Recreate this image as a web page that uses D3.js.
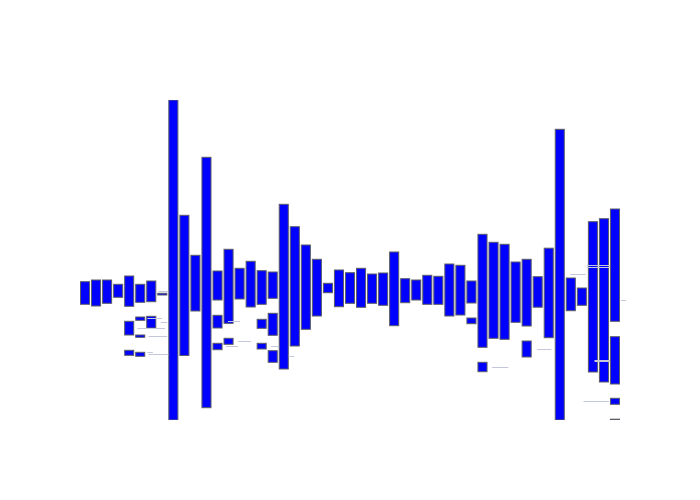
<!DOCTYPE html>
<html>
<head>
<meta charset="utf-8">
<script src="https://cdn.jsdelivr.net/npm/d3@7"></script>
<style>
  body { margin: 0; background: #fff; }
  svg { display: block; }
</style>
</head>
<body>
<div id="chart"></div>
<script>
// categories 1..49 (no tick labels shown on the chart)
var categories = d3.range(1, 50);

// main segment of each column: low and high values
var mainLow  = [115.7,114,116.7,122.7,113.7,117.7,118.3,125,0,64.5,109,12.3,120,96.7,121,113,115.7,121.7,51,74,
                90.7,104,127.3,113.3,116.7,112.7,116.7,114.7,94.3,117.3,120,115.7,115.7,104,105,117,72.7,81.7,80.7,97.7,
                94,112.8,82.3,0,109.3,114.7,48,38,98.7];
var mainHigh = [138.3,140,140,135.7,144,135.7,139,126.7,320,204.7,164.7,262.7,149,170.7,151.7,158.7,149.3,148,215.7,193.3,
                175,160.7,136.7,150,147.3,151.7,146,147,168,141.3,140,144.7,143.7,156,154.7,139,185.7,177.7,175.7,158,
                160.7,143.3,171.8,290.7,142,132,198.3,201.3,211];

// extra lower segments: [category, low, high]
var secondSeg = [[5,85,98.7],[6,99.7,103],[7,92,103.7],[13,92,104.7],[14,75.7,81.7],[17,91.7,100.7],
                 [18,84.7,106.7],[36,96.3,102],[37,48.3,57.7],[41,63,79],[49,36,83.3]];
var thirdSeg  = [[5,64.7,69.7],[6,82.7,85],[13,70.3,76.7],[17,71,76.7],[18,57.7,69.3],[49,15.7,21.7]];
var fourthSeg = [[6,63.7,67.7],[49,0,0.8]];

// faint label stubs: [from (bands), to (bands), value]
var stubs = [[7.1,8.0,129],[6.1,7.45,102],[7.3,7.9,98],[5.2,7.7,92],[6.2,7.9,84],[6.1,6.6,68],[6.2,8.0,66],
             [13.4,14.5,99],[14.3,15.5,79],[13.2,14.3,74],[17.3,18.0,74],[18.9,19.4,64],[37.3,38.8,53],
             [41.4,42.7,71],[45.9,48.0,155],[45.9,48.0,153],[44.4,45.8,146],[49.0,49.5,120],
             [46.6,48.0,60],[46.6,48.0,59],[45.6,47.9,19]];

var width = 700, height = 500;
var margin = {top: 100, right: 80, bottom: 80, left: 80};

var svg = d3.select("#chart").append("svg")
  .attr("width", width)
  .attr("height", height);

var x = d3.scaleBand()
  .domain(categories)
  .range([margin.left, width - margin.right])
  .paddingInner(0.09)
  .paddingOuter(0);

var y = d3.scaleLinear()
  .domain([0, 320])
  .range([height - margin.bottom, margin.top]);

// gather every segment
var segs = categories.map(function(c, i) {
  return {c: c, lo: mainLow[i], hi: mainHigh[i]};
});
[secondSeg, thirdSeg, fourthSeg].forEach(function(list) {
  list.forEach(function(d) { segs.push({c: d[0], lo: d[1], hi: d[2]}); });
});

svg.append("clipPath").attr("id", "plot")
  .append("rect")
  .attr("x", margin.left - 2).attr("y", margin.top)
  .attr("width", width - margin.left - margin.right + 8)
  .attr("height", height - margin.top - margin.bottom);

var g = svg.append("g").attr("clip-path", "url(#plot)");

g.selectAll("rect.bar")
  .data(segs)
  .enter().append("rect")
  .attr("class", "bar")
  .attr("x", function(d) { return x(d.c) + 0.5; })
  .attr("width", x.bandwidth() - 1)
  .attr("y", function(d) { return y(d.hi); })
  .attr("height", function(d) { return Math.max(0.5, y(d.lo) - y(d.hi)); })
  .attr("fill", "#0000ff")
  .attr("stroke", "#5c5c66")
  .attr("stroke-width", 1);

//faint stubs from tiny labels
var xb = function(u) { return x.range()[0] + u * x.step(); };
g.selectAll("line.stub")
  .data(stubs)
  .enter().append("line")
  .attr("class", "stub")
  .attr("x1", function(d) { return xb(d[0]); })
  .attr("x2", function(d) { return xb(d[1]); })
  .attr("y1", function(d) { return Math.round(y(d[2])) + 0.5; })
  .attr("y2", function(d) { return Math.round(y(d[2])) + 0.5; })
  .attr("stroke", "#c4c8d8")
  .attr("stroke-width", 1);
</script>
</body>
</html>
